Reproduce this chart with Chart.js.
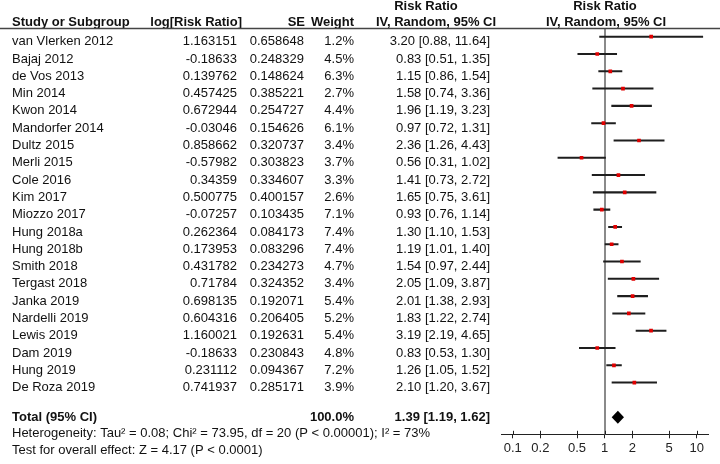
<!DOCTYPE html>
<html>
<head>
<meta charset="utf-8">
<script src="https://cdn.jsdelivr.net/npm/chart.js@4.4.1/dist/chart.umd.min.js"></script>
<style>
  html, body { margin: 0; padding: 0; background: #fff; }
  #wrap { width: 720px; height: 464px; position: relative; }
</style>
</head>
<body>
<div id="wrap"><canvas id="forestChart"></canvas></div>
<script>
const studies = ['van Vlerken 2012', 'Bajaj 2012', 'de Vos 2013', 'Min 2014', 'Kwon 2014', 'Mandorfer 2014',
    'Dultz 2015', 'Merli 2015', 'Cole 2016', 'Kim 2017', 'Miozzo 2017', 'Hung 2018a', 'Hung 2018b',
    'Smith 2018', 'Tergast 2018', 'Janka 2019', 'Nardelli 2019', 'Lewis 2019', 'Dam 2019', 'Hung 2019',
    'De Roza 2019'];
const logRR = [1.163151, -0.18633, 0.139762, 0.457425, 0.672944, -0.03046, 0.858662, -0.57982, 0.34359,
    0.500775, -0.07257, 0.262364, 0.173953, 0.431782, 0.71784, 0.698135, 0.604316, 1.160021, -0.18633,
    0.231112, 0.741937];
const se = [0.658648, 0.248329, 0.148624, 0.385221, 0.254727, 0.154626, 0.320737, 0.303823, 0.334607,
    0.400157, 0.103435, 0.084173, 0.083296, 0.234273, 0.324352, 0.192071, 0.206405, 0.192631, 0.230843,
    0.094367, 0.285171];
const weights = [1.2, 4.5, 6.3, 2.7, 4.4, 6.1, 3.4, 3.7, 3.3, 2.6, 7.1, 7.4, 7.4, 4.7, 3.4, 5.4, 5.2, 5.4,
    4.8, 7.2, 3.9];
const riskRatio = [3.20, 0.83, 1.15, 1.58, 1.96, 0.97, 2.36, 0.56, 1.41, 1.65, 0.93, 1.30, 1.19, 1.54, 2.05,
    2.01, 1.83, 3.19, 0.83, 1.26, 2.10];
const ciLow = [0.88, 0.51, 0.86, 0.74, 1.19, 0.72, 1.26, 0.31, 0.73, 0.75, 0.76, 1.10, 1.01, 0.97, 1.09,
    1.38, 1.22, 2.19, 0.53, 1.05, 1.20];
const ciHigh = [11.64, 1.35, 1.54, 3.36, 3.23, 1.31, 4.43, 1.02, 2.72, 3.61, 1.14, 1.53, 1.40, 2.44, 3.87,
    2.93, 2.74, 4.65, 1.30, 1.52, 3.67];

const totalWeight = 100.0;
const totalRR = [1.39, 1.19, 1.62]; // estimate, low, high
const totalRow = 22;
const axisTicks = [0.1, 0.2, 0.5, 1, 2, 5, 10];
const heterogeneityText = 'Heterogeneity: Tau\u00b2 = 0.08; Chi\u00b2 = 73.95, df = 20 (P < 0.00001); I\u00b2 = 73%';
const overallText = 'Test for overall effect: Z = 4.17 (P < 0.0001)';

const FONT = '"Liberation Sans", Arial, sans-serif';

function ciLabel(rr, lo, hi) {
    return rr.toFixed(2) + ' [' + lo.toFixed(2) + ', ' + hi.toFixed(2) + ']';
}

const forestText = {
    id: 'forestText',
    beforeDatasetsDraw(chart) {
        const { ctx, chartArea, scales: { x } } = chart;
        const px = Math.round(x.getPixelForValue(1));
        ctx.save();
        ctx.strokeStyle = '#8a8a8a';
        ctx.lineWidth = 2;
        ctx.beginPath();
        ctx.moveTo(px, chartArea.top);
        ctx.lineTo(px, chartArea.bottom);
        ctx.stroke();
        ctx.restore();
    },
    afterDraw(chart) {
        const { ctx, chartArea, scales: { x, y } } = chart;
        ctx.save();

        // header
        ctx.fillStyle = '#111';
        ctx.textBaseline = 'middle';
        ctx.font = 'bold 13px ' + FONT;
        ctx.textAlign = 'left';
        ctx.fillText('Study or Subgroup', 12, 22);
        ctx.textAlign = 'right';
        ctx.fillText('log[Risk Ratio]', 242, 22);
        ctx.fillText('SE', 305, 22);
        ctx.fillText('Weight', 354, 22);
        ctx.textAlign = 'center';
        ctx.fillText('Risk Ratio', 426, 6);
        ctx.fillText('IV, Random, 95% CI', 436, 22);
        ctx.fillText('Risk Ratio', 605, 6);
        ctx.fillText('IV, Random, 95% CI', 606, 22);

        ctx.strokeStyle = '#444';
        ctx.lineWidth = 1.5;
        ctx.beginPath();
        ctx.moveTo(0, 28.5);
        ctx.lineTo(720, 28.5);
        ctx.stroke();

        // study rows
        ctx.font = '13px ' + FONT;
        studies.forEach((name, i) => {
            const ty = y.getPixelForValue(i) + 5;
            ctx.textAlign = 'left';
            ctx.fillText(name, 12, ty);
            ctx.textAlign = 'right';
            ctx.fillText(String(logRR[i]), 237, ty);
            ctx.fillText(String(se[i]), 304, ty);
            ctx.fillText(weights[i].toFixed(1) + '%', 354, ty);
            ctx.fillText(ciLabel(riskRatio[i], ciLow[i], ciHigh[i]), 490, ty);
        });

        // total row + footer
        const totY = y.getPixelForValue(totalRow);
        ctx.font = 'bold 13px ' + FONT;
        ctx.textAlign = 'left';
        ctx.fillText('Total (95% CI)', 12, totY);
        ctx.textAlign = 'right';
        ctx.fillText(totalWeight.toFixed(1) + '%', 354, totY);
        ctx.fillText(ciLabel(totalRR[0], totalRR[1], totalRR[2]), 490, totY);

        ctx.font = '13px ' + FONT;
        ctx.textAlign = 'left';
        ctx.fillText(heterogeneityText, 12, 433);
        ctx.fillText(overallText, 12, 450);

        // pooled diamond
        const xe = x.getPixelForValue(totalRR[0]);
        ctx.fillStyle = '#000';
        ctx.beginPath();
        ctx.moveTo(x.getPixelForValue(totalRR[1]), totY);
        ctx.lineTo(xe, totY - 6.5);
        ctx.lineTo(x.getPixelForValue(totalRR[2]), totY);
        ctx.lineTo(xe, totY + 6.5);
        ctx.closePath();
        ctx.fill();

        // upper half of the axis ticks
        ctx.strokeStyle = '#222';
        ctx.lineWidth = 1;
        axisTicks.forEach(v => {
            const tx = Math.round(x.getPixelForValue(v)) + 0.5;
            ctx.beginPath();
            ctx.moveTo(tx, chartArea.bottom - 3.5);
            ctx.lineTo(tx, chartArea.bottom);
            ctx.stroke();
        });
        ctx.restore();
    }
};

new Chart(document.getElementById('forestChart'), {
    type: 'bar',
    data: {
        datasets: [{
            type: 'bar',
            indexAxis: 'y',
            label: 'CI',
            data: studies.map((s, i) => ({ x: [ciLow[i], ciHigh[i]], y: i })),
            backgroundColor: '#1e1e1e',
            borderWidth: 0,
            barThickness: 1.4,
            order: 2
        }, {
            type: 'scatter',
            label: 'Risk Ratio',
            data: studies.map((s, i) => ({ x: riskRatio[i], y: i })),
            pointStyle: 'rect',
            pointRadius: 2.6,
            pointHoverRadius: 2.6,
            backgroundColor: '#e00000',
            borderWidth: 0,
            order: 1
        }]
    },
    options: {
        responsive: true,
        maintainAspectRatio: false,
        animation: false,
        devicePixelRatio: 1,
        layout: { padding: { left: 501.7, right: 11.7, top: 29, bottom: 0 } },
        plugins: {
            legend: { display: false },
            tooltip: { enabled: false }
        },
        scales: {
            x: {
                type: 'logarithmic',
                axis: 'x',
                position: 'bottom',
                offset: false,
                min: 0.0759,
                max: 13.37,
                afterBuildTicks: (scale) => {
                    scale.ticks = axisTicks.map(v => ({ value: v }));
                },
                afterFit: (scale) => {
                    scale.height = 29.7;
                },
                ticks: {
                    autoSkip: false,
                    maxRotation: 0,
                    padding: 2,
                    color: '#222',
                    font: { family: FONT, size: 13 },
                    callback: (v) => String(v)
                },
                grid: { display: true, offset: false, drawOnChartArea: false, drawTicks: true, tickLength: 4, color: '#222', lineWidth: 1 },
                border: { display: true, color: '#222', width: 1 }
            },
            y: {
                type: 'linear',
                axis: 'y',
                reverse: true,
                offset: false,
                min: -0.446,
                max: 22.99,
                display: false
            }
        }
    },
    plugins: [forestText]
});
</script>
</body>
</html>
